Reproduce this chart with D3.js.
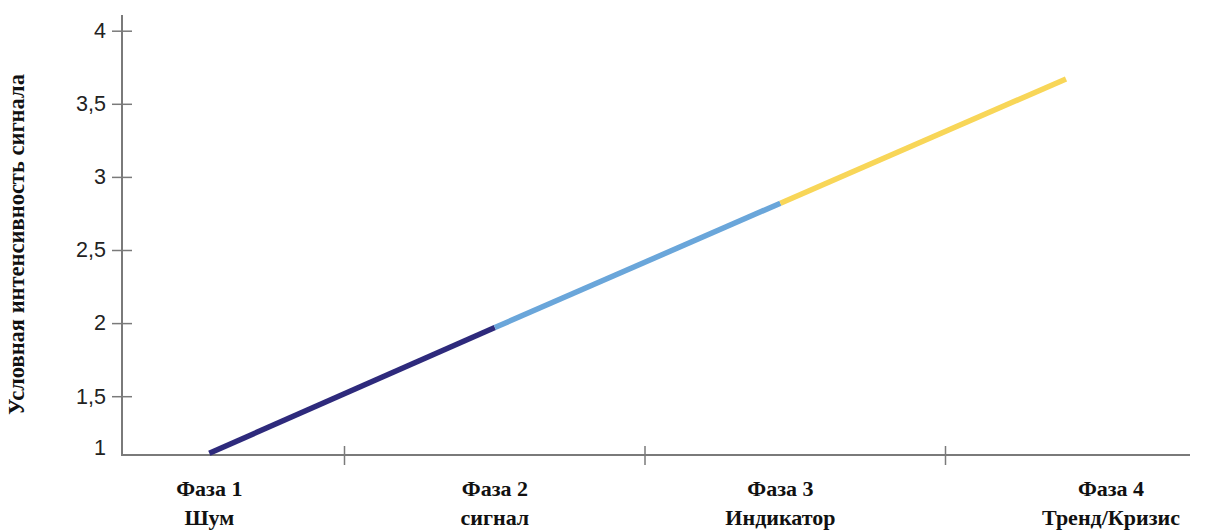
<!DOCTYPE html>
<html><head><meta charset="utf-8">
<script src="https://cdn.jsdelivr.net/npm/d3@7"></script>
<style>body{margin:0;background:#fff}svg{display:block}</style>
</head><body>
<svg id="c" width="1206" height="530"></svg>
<script>
const phases = ["Фаза 1", "Фаза 2", "Фаза 3", "Фаза 4"];
const phaseNames = ["Шум", "сигнал", "Индикатор", "Тренд/Кризис"];
const values = [1.11, 1.97, 2.82, 3.67];
const segmentColors = ["#2e2a7c", "#6aa6da", "#f8d658"];
const yTicks = [1.5, 2, 2.5, 3, 3.5, 4];
const yTickLabels = ["1,5", "2", "2,5", "3", "3,5", "4"];
const yTitle = "Условная интенсивность сигнала";

const svg = d3.select("#c");
const axisColor = "#7a7a7a";
const axisX = 122, axisY = 455, axisRight = 1190, axisTop = 15;
const serif = "Liberation Serif, Times New Roman, serif";
const sans = "Liberation Sans, Arial, sans-serif";

const y = d3.scaleLinear().domain([1, 4]).range([469.3, 30.7]);
const xPt = d3.scalePoint().domain(phases).range([209.3, 1066]);
const xBand = d3.scaleBand().domain(phases).range([44, 1246]);

// axes lines
svg.append("line").attr("x1", axisX).attr("x2", axisX).attr("y1", axisTop).attr("y2", axisY + 1)
  .attr("stroke", axisColor).attr("stroke-width", 2);
svg.append("line").attr("x1", axisX).attr("x2", axisRight).attr("y1", axisY).attr("y2", axisY)
  .attr("stroke", axisColor).attr("stroke-width", 2);

// y ticks
const yAxis = d3.axisLeft(y).tickValues(yTicks).tickFormat((d, i) => yTickLabels[i]).tickSize(0).tickPadding(16);
const gy = svg.append("g").attr("transform", `translate(${axisX},0)`).call(yAxis);
gy.select(".domain").remove();
gy.selectAll(".tick line").attr("x1", -10).attr("x2", 10).attr("stroke", axisColor).attr("stroke-width", 1.5);
gy.selectAll(".tick text").attr("font-family", sans).attr("font-size", 21.5).attr("fill", "#222");
// "1" label at axis base
svg.append("text").attr("x", axisX - 16).attr("y", axisY - 7).attr("dy", "0.32em").attr("text-anchor", "end")
  .attr("font-family", sans).attr("font-size", 21.5).attr("fill", "#222").text("1");

// x ticks at band boundaries
const bounds = phases.slice(1).map(p => xBand(p));
svg.selectAll(".xt").data(bounds).join("line").attr("class", "xt")
  .attr("x1", d => d).attr("x2", d => d).attr("y1", axisY - 9).attr("y2", axisY + 10)
  .attr("stroke", axisColor).attr("stroke-width", 1.5);

// x labels
const labelX = (p, i) => xPt(p) + (i === phases.length - 1 ? 45 : 0);
const lab = svg.selectAll(".xl").data(phases).join("g").attr("class", "xl")
  .attr("transform", (p, i) => `translate(${labelX(p, i)},0)`);
lab.append("text").attr("y", 496).attr("text-anchor", "middle")
  .attr("font-family", serif).attr("font-weight", "bold").attr("font-size", 22).attr("fill", "#111")
  .text(d => d);
lab.append("text").attr("y", 525).attr("text-anchor", "middle")
  .attr("font-family", serif).attr("font-weight", "bold").attr("font-size", 22).attr("fill", "#111")
  .text((d, i) => phaseNames[i]);

// y title
svg.append("text").attr("transform", `translate(24,244.5) rotate(-90)`).attr("text-anchor", "middle")
  .attr("font-family", serif).attr("font-weight", "bold").attr("font-size", 22.5).attr("fill", "#111")
  .text(yTitle);

// line segments
const segs = d3.range(values.length - 1).map(i => ({
  x1: xPt(phases[i]), y1: y(values[i]), x2: xPt(phases[i + 1]), y2: y(values[i + 1]), c: segmentColors[i]
}));
svg.selectAll(".seg").data(segs).join("line").attr("class", "seg")
  .attr("x1", d => d.x1).attr("y1", d => d.y1).attr("x2", d => d.x2).attr("y2", d => d.y2)
  .attr("stroke", d => d.c).attr("stroke-width", 5.5);
</script>
</body></html>
